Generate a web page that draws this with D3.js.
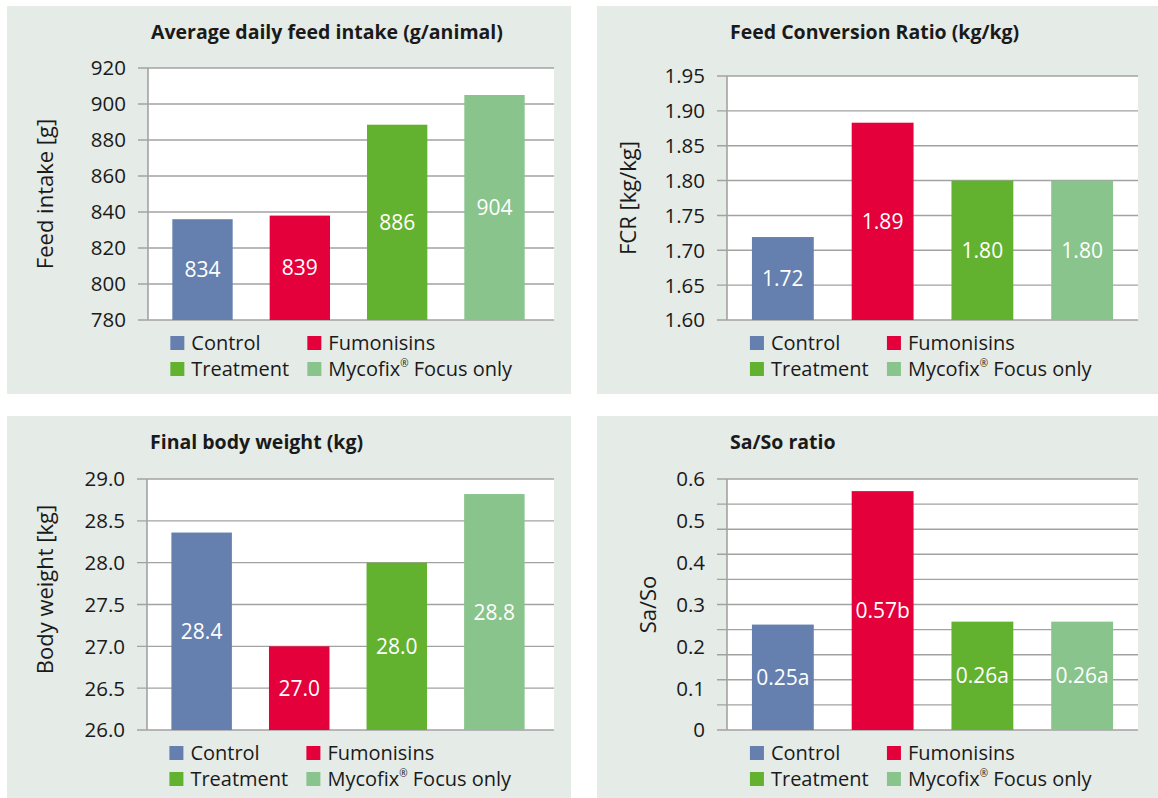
<!DOCTYPE html>
<html>
<head>
<meta charset="utf-8">
<script src="https://cdn.jsdelivr.net/npm/d3@7"></script>
<style>
  body { margin: 0; background: #fff; }
  text { font-family: "Open Sans", "Noto Sans", sans-serif; }
</style>
</head>
<body>
<div id="chart"></div>
<script>
const [width, height] = [1158, 798];

// data
const groups = ["Control", "Fumonisins", "Treatment", "Mycofix"];
const colors = ["#6580ae", "#e4003a", "#63b22f", "#88c48b"];

const intakeValues = [836, 838, 888.5, 905];
const intakeLabels = ["834", "839", "886", "904"];
const intakeTicks = [780, 800, 820, 840, 860, 880, 900, 920];

const fcrValues = [1.719, 1.883, 1.80, 1.80];
const fcrLabels = ["1.72", "1.89", "1.80", "1.80"];
const fcrTicks = [1.60, 1.65, 1.70, 1.75, 1.80, 1.85, 1.90, 1.95];

const weightValues = [28.36, 27.0, 28.0, 28.82];
const weightLabels = ["28.4", "27.0", "28.0", "28.8"];
const weightTicks = [26.0, 26.5, 27.0, 27.5, 28.0, 28.5, 29.0];

const sasoValues = [0.252, 0.571, 0.259, 0.259];
const sasoLabels = ["0.25a", "0.57b", "0.26a", "0.26a"];
const sasoTicks = [0, 0.1, 0.2, 0.3, 0.4, 0.5, 0.6];
const sasoGrid = [0, 0.06, 0.12, 0.18, 0.24, 0.30, 0.36, 0.42, 0.48, 0.54, 0.60];

const panels = [
  { box: [7, 6, 564, 388], plot: [148, 554, 68, 320], shift: 5, title: "Average daily feed intake (g/animal)",
    yTitle: "Feed intake [g]", yTitleX: 45, yTitleDy: 0, values: intakeValues, labels: intakeLabels,
    ticks: intakeTicks, grid: intakeTicks, fmt: d3.format("d") },
  { box: [597, 6, 561, 388], plot: [727, 1138, 76, 320], shift: 0, title: "Feed Conversion Ratio (kg/kg)",
    yTitle: "FCR [kg/kg]", yTitleX: 628, yTitleDy: 0, values: fcrValues, labels: fcrLabels,
    ticks: fcrTicks, grid: fcrTicks, fmt: d3.format(".2f") },
  { box: [7, 416, 564, 382], plot: [147, 554, 479, 730], shift: 5, title: "Final body weight (kg)",
    yTitle: "Body weight [kg]", yTitleX: 45, yTitleDy: -15, values: weightValues, labels: weightLabels,
    ticks: weightTicks, grid: weightTicks, fmt: d3.format(".1f") },
  { box: [597, 416, 561, 382], plot: [727, 1138, 479, 730], shift: 0, title: "Sa/So ratio",
    yTitle: "Sa/So", yTitleX: 648, yTitleDy: 0, values: sasoValues, labels: sasoLabels,
    ticks: sasoTicks, grid: sasoGrid, fmt: d => d === 0 ? "0" : d3.format(".1f")(d) }
];

const svg = d3.select("#chart")
  .append("svg")
  .attr("width", width)
  .attr("height", height);

panels.forEach(p => {
  const [bx, by, bw, bh] = p.box;
  const [x0, x1, yTop, yBot] = p.plot;
  const g = svg.append("g");

  g.append("rect")
    .attr("x", bx).attr("y", by)
    .attr("width", bw).attr("height", bh)
    .attr("fill", "#e5ebe7");

  g.append("rect")
    .attr("x", x0).attr("y", yTop)
    .attr("width", x1 - x0).attr("height", yBot - yTop)
    .attr("fill", "#fff");

  const x = d3.scaleBand()
    .domain(groups)
    .range([x0, x1 - p.shift])
    .paddingInner(0.38)
    .paddingOuter(0.25);

  const y = d3.scaleLinear()
    .domain(d3.extent(p.ticks))
    .range([yBot, yTop]);

  // gridlines
  g.selectAll(".grid")
    .data(p.grid)
    .enter()
    .append("line")
    .attr("x1", x0 - 10)
    .attr("x2", x1)
    .attr("y1", d => y(d))
    .attr("y2", d => y(d))
    .attr("stroke", "#a2a2a2")
    .attr("stroke-width", 1.4);

  // tick labels
  g.selectAll(".tick")
    .data(p.ticks)
    .enter()
    .append("text")
    .attr("x", x0 - 22)
    .attr("y", d => y(d))
    .attr("dy", "0.36em")
    .attr("text-anchor", "end")
    .attr("font-size", 20.5)
    .attr("fill", "#1a1a1a")
    .text(p.fmt);

  // bars
  g.selectAll(".bar")
    .data(p.values)
    .enter()
    .append("rect")
    .attr("x", (d, i) => x(groups[i]))
    .attr("width", x.bandwidth())
    .attr("y", d => y(d))
    .attr("height", d => yBot - y(d))
    .attr("fill", (d, i) => colors[i]);

  // y axis line
  g.append("line")
    .attr("x1", x0).attr("x2", x0)
    .attr("y1", yTop).attr("y2", yBot)
    .attr("stroke", "#a2a2a2")
    .attr("stroke-width", 1.6);

  // value labels, centred in the bar
  g.selectAll(".val")
    .data(p.values)
    .enter()
    .append("text")
    .attr("x", (d, i) => x(groups[i]) + x.bandwidth() / 2)
    .attr("y", d => (y(d) + yBot) / 2)
    .attr("dy", "0.36em")
    .attr("text-anchor", "middle")
    .attr("font-size", 21)
    .attr("fill", "#fff")
    .text((d, i) => p.labels[i]);

  // title
  g.append("text")
    .attr("x", x0 + 3)
    .attr("y", by + 33)
    .attr("font-size", 19.5)
    .attr("font-weight", "bold")
    .attr("fill", "#1a1a1a")
    .text(p.title);

  // y title
  g.append("text")
    .attr("transform", `translate(${p.yTitleX}, ${(yTop + yBot) / 2 + p.yTitleDy}) rotate(-90)`)
    .attr("dy", "0.36em")
    .attr("text-anchor", "middle")
    .attr("font-size", 22)
    .attr("fill", "#1a1a1a")
    .text(p.yTitle);

  // legend
  const lx = x(groups[0]) - 2;
  const legendItems = [
    { i: 0, col: 0, row: 0, name: "Control" },
    { i: 1, col: 1, row: 0, name: "Fumonisins" },
    { i: 2, col: 0, row: 1, name: "Treatment" },
    { i: 3, col: 1, row: 1, name: "Mycofix" }
  ];
  const leg = g.selectAll(".leg")
    .data(legendItems)
    .enter()
    .append("g")
    .attr("transform", d => `translate(${lx + d.col * 137}, ${yBot + 23 + d.row * 26})`);

  leg.append("rect")
    .attr("x", 0).attr("y", -7)
    .attr("width", 14).attr("height", 14)
    .attr("fill", d => colors[d.i]);

  const lt = leg.append("text")
    .attr("x", 21)
    .attr("dy", "0.36em")
    .attr("font-size", 20)
    .attr("fill", "#1a1a1a")
    .text(d => d.name);

  lt.filter(d => d.i === 3).each(function() {
    const t = d3.select(this);
    t.append("tspan").attr("font-size", 10).attr("dy", "-0.9em").text("®");
    t.append("tspan").attr("dy", "0.45em").text(" Focus only");
  });
});
</script>
</body>
</html>
